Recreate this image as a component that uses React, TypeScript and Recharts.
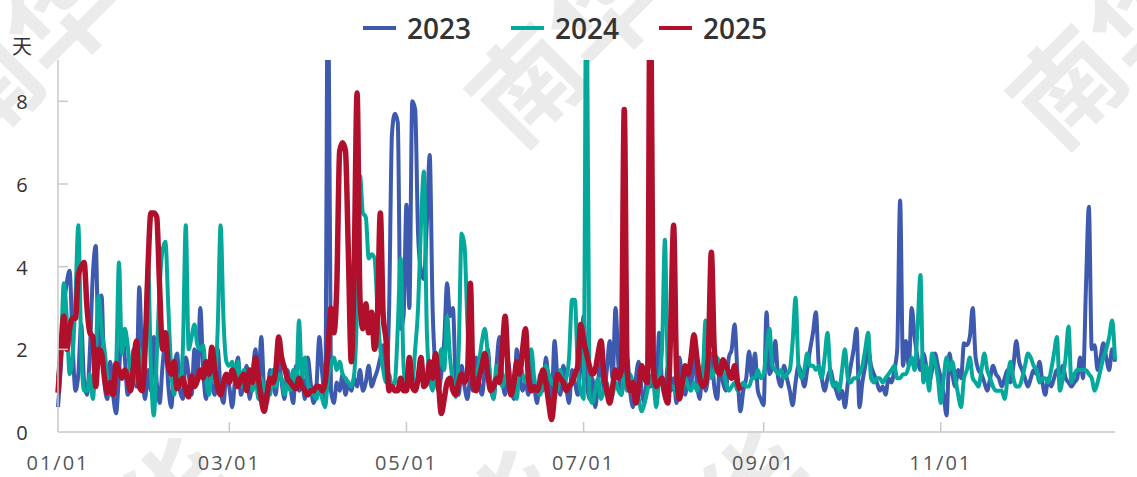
import { LineChart, Line, XAxis, YAxis } from "recharts";

const MONTH_DAYS = [31, 28, 31, 30, 31, 30, 31, 31, 30, 31, 30, 31];
const TICK_LABELS = ["01/01", "03/01", "05/01", "07/01", "09/01", "11/01"];
const Y_TICKS = [0, 2, 4, 6, 8];

const pad = (n: number) => String(n).padStart(2, "0");
const categories: string[] = MONTH_DAYS.flatMap((n, m) =>
  Array.from({ length: n }, (_, d) => `${pad(m + 1)}/${pad(d + 1)}`)
);

// 2023, one value per day
const s2023 = [
  0.6, 1.6, 3.0, 3.6, 3.9, 2.2, 1.0, 1.4, 2.6, 1.2,
  0.9, 2.0, 3.8, 4.5, 2.0, 3.3, 1.2, 0.8, 1.7, 0.9,
  0.45, 1.4, 2.5, 1.8, 0.9, 1.2, 2.0, 1.1, 3.5, 1.6,
  0.8, 1.5, 1.0, 2.3, 1.2, 0.7, 1.6, 2.2, 1.1, 0.6,
  1.5, 1.9, 1.0, 0.8, 1.8, 1.4, 0.9, 2.0, 1.3, 3.0,
  1.5, 0.8, 1.7, 1.2, 0.9, 2.0, 1.0, 0.7, 1.4, 1.1,
  0.6, 1.3, 1.8, 0.9, 1.2, 1.6, 0.8, 1.4, 2.0, 1.1,
  2.3, 1.0, 0.7, 1.5, 1.3, 0.9, 1.7, 1.2, 0.8, 1.5,
  1.1, 0.7, 1.6, 1.0, 1.3, 0.8, 1.8, 1.2, 0.7, 1.1,
  2.3, 1.4, 0.8, 12, 1.0, 0.7, 1.2, 1.0, 1.4, 0.9,
  1.2, 1.0, 1.3, 1.1, 1.5, 1.0, 1.2, 1.6, 1.1, 1.3,
  1.5, 1.8, 2.1, 1.4, 2.9, 7.2, 7.7, 7.5, 2.5, 2.8,
  5.5, 3.0, 8.0, 7.8, 4.8, 3.9, 3.7, 5.0, 6.7, 3.0,
  1.5, 1.0, 1.4, 2.2, 3.6, 2.8, 3.0, 1.2, 0.9, 1.6,
  1.1, 0.8, 1.3, 1.0, 1.8, 1.2, 0.9, 1.5, 2.0, 1.1,
  0.8, 1.6, 2.3, 1.3, 0.9, 1.7, 1.1, 0.8, 2.0, 1.4,
  1.0, 1.2, 0.9, 1.6, 1.1, 0.7, 1.4, 1.0, 1.8, 1.2,
  0.8, 2.2, 1.3, 0.9, 1.6, 1.1, 0.7, 1.5, 1.2, 0.9,
  1.7, 2.8, 1.4, 0.8, 1.3, 0.6, 1.2, 1.9, 1.0, 1.5,
  2.2, 1.3, 3.0, 1.6, 0.9, 1.4, 1.8, 1.0, 0.6, 1.3,
  1.7, 1.0, 0.7, 1.5, 1.1, 1.4, 0.8, 2.4, 1.2, 0.9,
  1.6, 1.0, 1.3, 0.7, 1.8, 1.2, 0.9, 1.5, 1.1, 2.0,
  1.2, 0.8, 1.6, 1.0, 1.4, 1.9, 1.1, 0.8, 1.7, 1.2,
  1.0, 1.8, 2.0, 2.6, 1.4, 0.5, 1.0, 1.3, 1.95, 1.3,
  1.9, 1.0, 0.8, 0.65, 2.9, 1.4, 1.6, 2.2, 1.3, 1.1,
  1.6, 1.3, 1.0, 0.65, 1.2, 1.6, 1.4, 1.1, 1.5, 2.0,
  2.4, 2.9, 1.6, 1.3, 1.0, 1.3, 1.5, 1.2, 1.0, 0.8,
  1.0, 0.6, 1.2, 1.6, 2.0, 2.5, 0.6, 1.2, 1.6, 2.0,
  1.6, 1.4, 1.2, 1.0, 1.1, 0.9, 1.3, 1.2, 1.5, 2.0,
  5.6, 1.6, 2.2, 1.6, 3.0, 2.3, 1.8, 1.5, 1.9, 1.6,
  1.2, 1.5, 1.9, 1.6, 1.3, 0.9, 0.4, 1.9, 1.4, 1.1,
  1.5, 1.3, 2.15, 2.1, 2.3, 3.0, 1.8, 1.5, 1.4, 1.2,
  1.0, 1.3, 1.6, 1.4, 1.3, 1.1, 1.3, 1.5, 1.2, 1.6,
  2.2, 1.7, 1.5, 1.3, 1.1, 1.3, 1.5, 1.4, 1.7, 1.2,
  0.9, 1.3, 1.1, 1.3, 1.5, 1.4, 1.6, 1.3, 1.2, 1.1,
  1.2, 1.3, 1.8, 1.3, 3.5, 5.45, 2.0, 2.1, 1.5, 1.8,
  2.15, 1.8, 1.5, 2.0, 1.7,
];

// 2024
const s2024 = [
  1.3, 2.0, 3.6, 2.8, 1.4, 1.8, 3.2, 5.0, 2.0, 1.0,
  1.0, 1.4, 0.8, 1.9, 3.3, 2.5, 2.0, 1.3, 0.9, 1.2,
  1.6, 4.1, 1.9, 2.5, 2.1, 1.4, 1.7, 1.2, 2.0, 1.5,
  2.0, 4.1, 1.5, 0.4, 1.8, 3.5, 4.4, 4.6, 3.0, 1.5,
  0.9, 1.4, 1.1, 2.0, 5.0, 2.0, 2.3, 2.6, 2.1, 2.0,
  2.1, 1.3, 0.9, 1.5, 1.2, 2.5, 5.0, 2.7, 1.7, 1.6,
  1.7, 1.2, 1.7, 1.1, 1.5, 1.0, 1.3, 1.0, 1.4, 0.8,
  1.3, 1.0, 1.2, 0.9, 1.5, 1.1, 1.4, 1.3, 0.9, 1.2,
  1.0, 1.5, 1.1, 2.7, 1.3, 1.8, 1.2, 1.0, 0.9, 0.8,
  1.1, 0.8, 0.6, 1.3, 1.6, 1.8, 1.5, 1.7, 1.4, 1.3,
  1.2, 1.1, 1.4, 3.0, 6.2, 5.3, 5.2, 4.2, 4.3, 4.2,
  3.0, 2.0, 1.5, 1.2, 1.4, 1.1, 1.2, 2.5, 4.2, 1.6,
  1.0, 1.4, 1.2, 2.0, 3.0, 5.0, 6.3, 2.5, 1.3, 1.0,
  1.6, 1.6, 2.0, 1.5, 2.8, 1.8, 1.2, 0.85, 2.0, 4.8,
  4.5, 2.6, 1.4, 1.5, 1.4, 1.7, 2.2, 2.5, 1.9, 1.2,
  0.8, 1.6, 1.4, 1.1, 1.3, 1.5, 1.3, 1.0, 0.8, 1.6,
  1.4, 1.2, 1.5, 2.0, 1.3, 1.0, 0.9, 1.2, 1.6, 1.4,
  1.2, 1.1, 1.0, 1.5, 1.2, 1.3, 1.8, 3.2, 3.2, 1.5,
  1.0, 0.8, 12, 0.9, 0.7, 1.0, 1.3, 0.8, 1.0, 1.2,
  0.75, 0.9, 1.2, 1.0, 0.9, 1.4, 1.0, 1.4, 1.2, 1.1,
  0.8, 0.5, 0.7, 1.0, 1.3, 1.2, 0.6, 1.3, 2.0, 4.65,
  1.5, 1.1, 1.1, 0.9, 0.8, 1.0, 1.3, 1.1, 1.0, 1.2,
  1.0, 1.2, 1.4, 2.7, 1.8, 1.3, 1.5, 1.8, 1.6, 1.5,
  1.2, 1.0, 1.1, 1.2, 1.0, 1.1, 1.2, 1.1, 1.1, 1.3,
  1.3, 1.5, 1.3, 1.4, 2.0, 2.5, 1.6, 1.5, 1.4, 1.5,
  1.3, 1.4, 1.5, 2.2, 3.25, 1.6, 1.3, 1.5, 1.9, 1.6,
  1.6, 1.5, 1.6, 1.3, 1.8, 2.4, 1.4, 1.1, 1.2, 1.0,
  1.5, 2.0, 1.3, 1.2, 1.3, 1.3, 1.4, 1.6, 2.0, 2.4,
  1.3, 1.2, 1.3, 1.3, 1.2, 1.3, 1.4, 1.5, 1.6, 1.3,
  1.3, 1.4, 1.4, 1.6, 1.8, 1.5, 2.5, 3.8, 1.2, 1.6,
  1.0, 1.9, 1.7, 1.3, 0.7, 1.3, 1.8, 1.5, 1.7, 1.3,
  0.9, 0.6, 1.3, 1.5, 1.8, 1.3, 1.2, 1.1, 1.5, 1.9,
  1.5, 1.3, 1.1, 1.0, 1.0, 1.0, 0.8, 1.3, 1.7, 1.3,
  1.1, 1.1, 1.3, 1.6, 1.9, 1.8, 1.6, 1.5, 1.2, 1.3,
  1.3, 1.2, 1.5, 1.9, 2.3, 1.0, 1.3, 1.8, 2.55, 1.2,
  1.4, 1.5, 1.5, 1.5, 1.5, 1.4, 1.3, 1.0, 1.2, 1.5,
  1.8, 2.0, 2.3, 2.7, 1.75,
];

// 2025 (up to late August)
const s2025 = [
  0.95, 2.0, 2.8, 2.0, 2.5, 2.75, 2.75, 3.8, 4.0, 4.1,
  3.0, 2.4, 2.3, 1.1, 2.0, 1.9, 1.3, 0.95, 1.2, 0.9,
  1.66, 1.5, 1.3, 1.5, 1.3, 1.0, 1.6, 2.2, 1.1, 1.0,
  2.0, 4.0, 5.3, 5.3, 5.2, 3.5, 2.0, 2.4, 1.6, 1.4,
  1.7, 1.05, 1.2, 1.3, 1.0, 0.85, 1.35, 1.1, 1.25, 1.5,
  1.3, 1.7, 1.4, 2.05, 1.5, 1.1, 0.9, 1.2, 1.4, 1.2,
  1.5, 1.3, 1.1, 1.3, 1.4, 1.0, 1.5, 1.2, 1.8, 1.3,
  0.8, 0.5, 0.9, 1.3, 1.2, 1.5, 2.3, 1.8, 1.55, 1.3,
  1.2, 1.1, 1.05, 1.3, 1.1, 1.0, 0.9, 1.0, 1.0, 1.1,
  1.1, 1.0, 1.2, 2.0, 3.0, 2.4, 3.5, 6.8, 7.0, 6.8,
  4.3, 1.7, 4.0, 8.2, 3.2, 2.5, 3.1, 2.4, 2.9, 2.0,
  2.8, 5.3, 2.8, 2.2, 1.0, 1.1, 1.0, 1.0, 1.3, 1.0,
  1.0, 1.8, 1.1, 1.0, 1.3, 1.8, 1.1, 1.2, 1.7, 1.3,
  1.9, 1.2, 0.45, 0.8, 1.2, 1.3, 1.0, 0.9, 1.2, 1.4,
  1.2, 1.4, 3.6, 1.1, 1.0, 1.3, 1.6, 1.9, 1.4, 1.0,
  1.1, 1.3, 1.2, 2.0, 2.8, 1.5, 0.9, 1.2, 1.7, 1.4,
  2.0, 2.5, 1.3, 1.0, 1.1, 1.0, 1.2, 1.5, 1.2, 0.7,
  0.3, 0.9, 1.4, 1.3, 1.2, 1.0, 1.1, 1.2, 1.4, 1.6,
  2.6, 2.2, 1.9, 1.6, 1.4, 1.5, 1.9, 2.2, 1.4, 1.0,
  0.7, 1.1, 1.5, 1.3, 1.5, 7.8, 1.5, 1.0, 1.2, 0.7,
  1.1, 1.6, 1.3, 1.2, 12, 1.6, 1.1, 1.2, 1.3, 0.9,
  0.7, 2.5, 5.0, 1.5, 0.8, 1.2, 1.6, 1.4, 1.8, 2.35,
  1.8, 1.3, 1.1, 1.2, 2.0, 4.35, 2.0, 1.5, 1.4, 1.75,
  1.6, 1.45, 1.3, 1.6, 1.2, 1.0,
];

const data = categories.map((date, i) => ({
  date,
  y2023: s2023[i],
  y2024: s2024[i],
  y2025: s2025[i],
}));

const SERIES = [
  { key: "y2023", name: "2023", color: "#3d5aae", width: 4 },
  { key: "y2024", name: "2024", color: "#05a99b", width: 4 },
  { key: "y2025", name: "2025", color: "#b0102c", width: 5.5 },
];

const FONT = "'Open Sans', 'Noto Sans', sans-serif";

const XTick = ({ x, y, payload, index }: any) => (
  <g>
    {index > 0 && <line x1={x} y1={y} x2={x} y2={y - 10} stroke="#c8c8c8" strokeWidth={1.5} />}
    <text x={x} y={y + 31} dy="0.35em" textAnchor="middle" fill="#555" fontSize={20} fontFamily={FONT} letterSpacing={2}>
      {payload.value}
    </text>
  </g>
);

const YTick = ({ x, y, payload }: any) => (
  <g>
    {payload.value > 0 && <line x1={x} y1={y} x2={x + 10} y2={y} stroke="#c8c8c8" strokeWidth={1.5} />}
    <text x={22} y={y + 1} dy="0.35em" textAnchor="middle" fill="#333" fontSize={20} fontFamily={FONT}>
      {payload.value}
    </text>
  </g>
);

const WATERMARK = [
  { ch: "南", x: -20, y: 85 }, { ch: "华", x: 57, y: 10 },
  { ch: "南", x: 522, y: 80 }, { ch: "华", x: 599, y: 5 },
  { ch: "南", x: 1063, y: 82 }, { ch: "华", x: 1140, y: 8 },
  { ch: "华", x: 170, y: 492 }, { ch: "华", x: 505, y: 505 }, { ch: "华", x: 750, y: 485 },
];

export default function App() {
  return (
    <div style={{ position: "absolute", left: 0, top: 0, width: 1137, height: 477, background: "#fff", overflow: "hidden" }}>
      <svg width={1137} height={477} style={{ position: "absolute", left: 0, top: 0 }}>
        {WATERMARK.map((w, i) => (
          <text
            key={i} x={w.x} y={w.y} fill="#ebebeb" fontSize={108} fontWeight={700}
            fontFamily="'Noto Sans CJK SC', sans-serif" textAnchor="middle" dominantBaseline="central"
            transform={`rotate(-45 ${w.x} ${w.y})`}
          >
            {w.ch}
          </text>
        ))}
      </svg>

      <div style={{ position: "absolute", left: 0, top: 0 }}>
        <LineChart width={1137} height={477} data={data} margin={{ top: 60, right: 22, left: 0, bottom: 0 }}>
          <XAxis
            dataKey="date" ticks={TICK_LABELS} interval={0} height={45}
            axisLine={{ stroke: "#c8c8c8", strokeWidth: 1.5 }} tickLine={false}
            tickSize={0} tickMargin={0} tick={<XTick />}
          />
          <YAxis
            width={58} domain={[0, 9]} ticks={Y_TICKS} allowDataOverflow
            axisLine={{ stroke: "#c8c8c8", strokeWidth: 1.5 }} tickLine={false}
            tickSize={0} tickMargin={0} tick={<YTick />}
          />
          {SERIES.map((s) => (
            <Line
              key={s.key} dataKey={s.key} name={s.name} type="monotone" stroke={s.color}
              strokeWidth={s.width} dot={false} activeDot={false} strokeLinejoin="round"
              isAnimationActive={false}
            />
          ))}
        </LineChart>
      </div>

      <div style={{ position: "absolute", left: 12, top: 31, fontFamily: "'Noto Sans CJK SC', sans-serif", fontSize: 20, color: "#333" }}>
        天
      </div>

      <div style={{ position: "absolute", left: 363, top: 9, display: "flex", gap: 40, fontFamily: FONT }}>
        {SERIES.map((s) => (
          <div key={s.key} style={{ display: "flex", alignItems: "center", gap: 11 }}>
            <span style={{ display: "inline-block", width: 33, height: 4, background: s.color }} />
            <span style={{ fontSize: 28, fontWeight: 600, color: "#333", lineHeight: "38px" }}>{s.name}</span>
          </div>
        ))}
      </div>
    </div>
  );
}
